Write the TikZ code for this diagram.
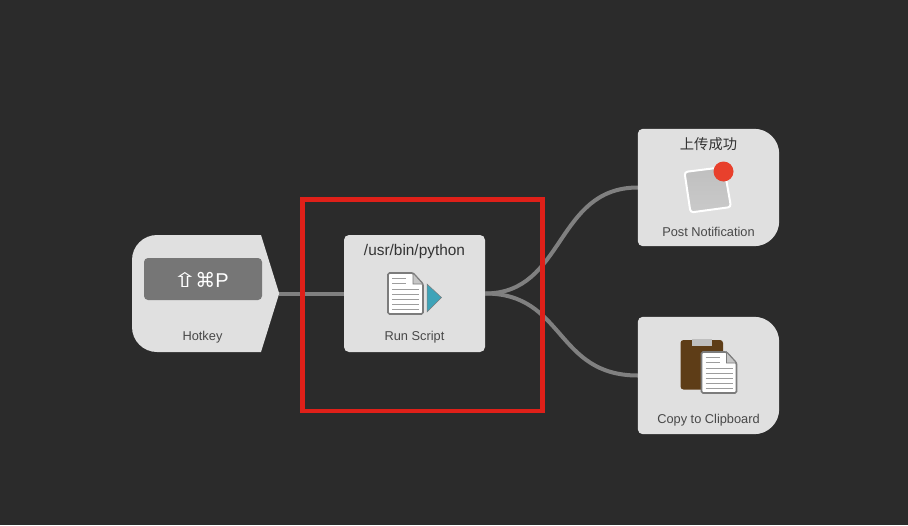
\documentclass[tikz,border=0pt]{standalone}
\usepackage{fontspec}
\usepackage{graphicx}
\setmainfont{Liberation Sans}
\newfontfamily\cjkfont{Noto Sans CJK SC}
\newfontfamily\symfont{DejaVu Sans}
\usepackage{xcolor}
\usetikzlibrary{positioning}
\definecolor{bgdark}{HTML}{2B2B2B}
\definecolor{boxgray}{HTML}{E0E0E0}
\definecolor{keygray}{HTML}{767676}
\definecolor{linkgray}{HTML}{808080}
\definecolor{labelgray}{HTML}{484848}
\definecolor{markred}{HTML}{DF2019}
\definecolor{playteal}{HTML}{3EA3B8}
\definecolor{boardbrown}{HTML}{5E3D17}
\definecolor{iconedge}{HTML}{7C7C7C}
\definecolor{badgered}{HTML}{E8402C}
\tikzset{
  actbox/.style={minimum width=141pt,minimum height=117pt,inner sep=0pt},
  caption/.style={inner sep=0pt,text=labelgray,font=\fontsize{12.8}{14}\selectfont},
  title/.style={inner sep=0pt,text=black!80,font=\fontsize{15.4}{17}\selectfont},
  link/.style={linkgray,line width=4pt},
  docline/.style={iconedge!75,line width=0.9pt}
}
% sheet of paper with folded corner, top left corner at #1,#2
\newcommand{\docsheet}[2]{
  \begin{scope}[shift={(#1,#2)}]
    \filldraw[fill=white,draw=iconedge,line width=1.6pt,rounded corners=1.5pt] (0,1) -- (25,1) -- (35,12) -- (35,42) -- (0,42) -- cycle;
    \filldraw[fill=gray!45,draw=iconedge,line width=0.8pt] (25,1) -- (25,12) -- (35,12) -- cycle;
    \foreach \y/\e in {6/18,11/18,17/31,22/31,27/31,32/31,37/31}
      \draw[docline] (4,\y) -- (\e,\y);
  \end{scope}
}
\begin{document}
\begin{tikzpicture}[x=1pt,y=-1pt]
  \useasboundingbox (0,0) rectangle (908,525);
  \fill[bgdark] (0,0) rectangle (908,525);

  \node[actbox,minimum width=147pt] (hotkey) at (205.5,293.5) {};
  \node[actbox,fill=boxgray,rounded corners=5pt] (runscript) at (414.5,293.5) {};
  \node[actbox] (postnote) at (708.5,187.5) {};
  \node[actbox] (clipboard) at (708.5,375.5) {};

  % connectors
  \draw[link] (hotkey.east) -- (runscript.west);
  \draw[link] (runscript.east) .. controls (565,293.5) and (555,187.5) .. (postnote.west);
  \draw[link] (runscript.east) .. controls (565,293.5) and (555,375.5) .. (clipboard.west);

  % hotkey
  \fill[boxgray] (132,293) [rounded corners=25pt] -- (132,235) [sharp corners] -- (261,235) -- (hotkey.east) -- (261,352) [rounded corners=25pt] -- (132,352) [sharp corners] -- cycle;
  \fill[keygray,rounded corners=4pt] (144,258) rectangle (262,300);
  \node[inner sep=0pt,text=white,font=\symfont\fontsize{20}{24}\selectfont] (hotkeykeys) at (200.5,279.5) {\scalebox{1.5}[1]{⇧}\kern-2pt⌘{\rmfamily P}};
  \node[caption] (hotkeylabel) at (202.5,337.5) {Hotkey};

  % run script
  \node[title] (scriptpath) at (414.5,251.5) {/usr/bin/python};
  \docsheet{388}{272}
  \filldraw[fill=playteal,draw=iconedge,line width=0.5pt] (427,284) -- (441.5,297.5) -- (427,312) -- cycle;
  \node[caption] (scriptlabel) at (414.5,337.5) {Run Script};

  % post notification
  \fill[boxgray] (postnote.west) [rounded corners=5pt] -- (postnote.north west) [rounded corners=25pt] -- (postnote.north east) -- (postnote.south east) [rounded corners=5pt] -- (postnote.south west) -- cycle;
  \node[inner sep=0pt,text=black!80,font=\cjkfont\fontsize{14.3}{17}\selectfont] (posttitle) at (708.5,144) {上传成功};
  \shade[top color=gray!50,bottom color=gray!42,draw=white,line width=2pt,rounded corners=3pt] (684.5,172) -- (724,167) -- (731,207) -- (690.5,212.5) -- cycle;
  \fill[badgered] (723.5,171.5) circle (10);
  \node[caption] (postlabel) at (708.5,231.5) {Post Notification};

  % copy to clipboard
  \fill[boxgray] (clipboard.west) [rounded corners=5pt] -- (clipboard.north west) [rounded corners=25pt] -- (clipboard.north east) -- (clipboard.south east) [rounded corners=5pt] -- (clipboard.south west) -- cycle;
  \fill[boardbrown,rounded corners=3pt] (680.5,340) rectangle (723,389.5);
  \fill[gray!50] (691.5,338.5) rectangle (711.5,345.5);
  \docsheet{701.5}{351}
  \node[caption] (cliplabel) at (708.5,420) {Copy to Clipboard};

  % red frame
  \draw[markred,line width=4.5pt] (302.7,199.5) rectangle (542.5,411);
\end{tikzpicture}
\end{document}
